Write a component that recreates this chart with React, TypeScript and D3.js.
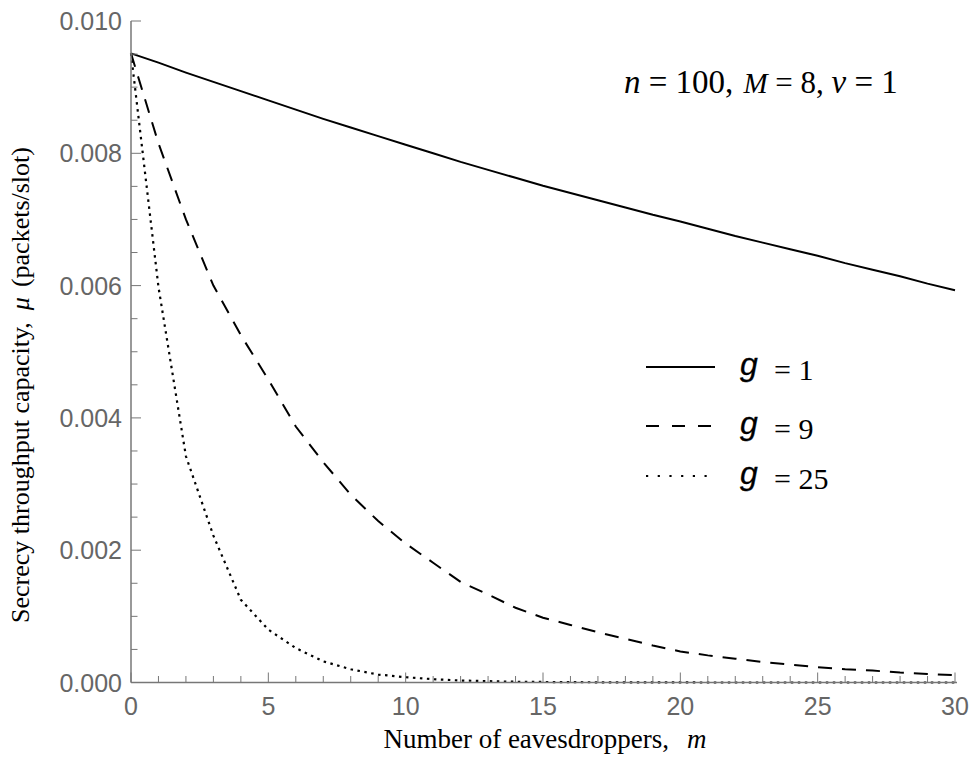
import React from "react";
import * as d3 from "d3";

const mValues = [0,1,2,3,4,5,6,7,8,9,10,11,12,13,14,15,16,17,18,19,20,21,22,23,24,25,26,27,28,29,30];
const g1 = [0.00951,0.00937,0.00922,0.00908,0.00894,0.0088,0.00866,0.00852,0.00839,0.00826,0.00813,0.008,0.00787,0.00775,0.00763,0.00751,0.0074,0.00729,0.00718,0.00707,0.00697,0.00686,0.00675,0.00665,0.00655,0.00645,0.00634,0.00624,0.00614,0.00603,0.00593];
const g9 = [0.00951,0.00815,0.007,0.006,0.00525,0.00458,0.00387,0.00333,0.00284,0.00244,0.0021,0.00181,0.00152,0.00133,0.00113,0.00098,0.00087,0.00076,0.00066,0.00056,0.00047,0.00041,0.00036,0.00031,0.00027,0.00023,0.0002,0.00018,0.00015,0.00013,0.00011];
const g25 = [0.00951,0.00598,0.00342,0.00222,0.00125,0.0008,0.00052,0.00032,0.0002,0.00012,0.00008,0.00005,0.00003,0.00002,0.000012,0.000008,0.000005,0.000003,0.000002,0.000001,0.000001,0,0,0,0,0,0,0,0,0,0];
const xTicks = [0,5,10,15,20,25,30];
const yTicks = [0,0.002,0.004,0.006,0.008,0.01];
const legendLabels = ["1","9","25"];

const W = 976, H = 769;
const L = 131, R = 955, T = 21, B = 682.5;
const SERIF = "'Liberation Serif', 'Times New Roman', serif";
const SANS = "'Liberation Sans', Arial, sans-serif";

export default function App() {
  const x = d3.scaleLinear().domain([0,30]).range([L,R]);
  const y = d3.scaleLinear().domain([0,0.01]).range([B,T]);
  const line = d3.line<number>().x((_, i) => x(mValues[i])).y(d => y(d));
  const axisCol = "#777";
  const labCol = "#666";
  const series = [
    { data: g1, dash: undefined as string | undefined, ldash: undefined as string | undefined, w: 2 },
    { data: g9, dash: "14,10", ldash: "13,13", w: 2 },
    { data: g25, dash: "2.5,4.5", ldash: "2.2,9.5", w: 2.2 },
  ];
  const xMinor = d3.range(0, 31, 1).filter(v => v % 5 !== 0);
  const yMinor = d3.range(0, 0.01001, 0.0005).filter((_, i) => i % 4 !== 0);
  const legY = [367, 426, 476];
  return (
    <svg width={W} height={H} style={{ position: "absolute", left: 0, top: 0, background: "#fff" }}>
      <rect width={W} height={H} fill="#fff" />
      {series.map((s, i) => (
        <path key={i} d={line(s.data) || ""} fill="none" stroke="#000" strokeWidth={s.w} strokeDasharray={s.dash} />
      ))}
      <line x1={L} x2={L} y1={B} y2={T} stroke={axisCol} strokeWidth={1.5} />
      <line x1={L} x2={R + 2} y1={B} y2={B} stroke={axisCol} strokeWidth={1.5} />
      {xTicks.map(t => (
        <g key={"xt" + t}>
          <line x1={x(t)} x2={x(t)} y1={B} y2={B - 10} stroke={axisCol} strokeWidth={1} />
          <text x={x(t)} y={715} textAnchor="middle" fontFamily={SANS} fontSize={25} fill={labCol}>{t}</text>
        </g>
      ))}
      {xMinor.map(t => (
        <line key={"xm" + t} x1={x(t)} x2={x(t)} y1={B} y2={B - 6.5} stroke={axisCol} strokeWidth={1} />
      ))}
      {yTicks.map(t => (
        <g key={"yt" + t}>
          <line x1={L} x2={L + 10} y1={y(t)} y2={y(t)} stroke={axisCol} strokeWidth={1} />
          <text x={122} y={y(t) + 9} textAnchor="end" fontFamily={SANS} fontSize={25} fill={labCol}>{t.toFixed(3)}</text>
        </g>
      ))}
      {yMinor.map((t, i) => (
        <line key={"ym" + i} x1={L} x2={L + 6.5} y1={y(t)} y2={y(t)} stroke={axisCol} strokeWidth={1} />
      ))}
      <text x={545} y={748} textAnchor="middle" fontFamily={SERIF} fontSize={27} fill="#000">
        Number of eavesdroppers,<tspan dx={18} fontStyle="italic">m</tspan>
      </text>
      <text transform={`translate(29,385) rotate(-90)`} textAnchor="middle" fontFamily={SERIF} fontSize={26} fill="#000">
        Secrecy throughput capacity,<tspan dx={12} fontStyle="italic">μ</tspan><tspan dx={10}>(packets/slot)</tspan>
      </text>
      <text x={624} y={93} fontFamily={SERIF} fontSize={33} fill="#000">
        <tspan fontStyle="italic">n</tspan> = 100,<tspan dx={10} fontStyle="italic" fontSize={29}>M</tspan><tspan fontSize={31}> = 8, </tspan><tspan fontStyle="italic">v</tspan> = 1
      </text>
      {series.map((s, i) => (
        <g key={"lg" + i}>
          <line x1={646} x2={715} y1={legY[i]} y2={legY[i]} stroke="#000" strokeWidth={2} strokeDasharray={s.ldash} />
          <text x={740} y={legY[i] + 8} fontFamily={SANS} fontStyle="italic" fontSize={32} fill="#000" stroke="#000" strokeWidth={0.3}>g</text>
          <text x={774} y={legY[i] + 13} fontFamily={SERIF} fontSize={30} fill="#000">= {legendLabels[i]}</text>
        </g>
      ))}
    </svg>
  );
}
